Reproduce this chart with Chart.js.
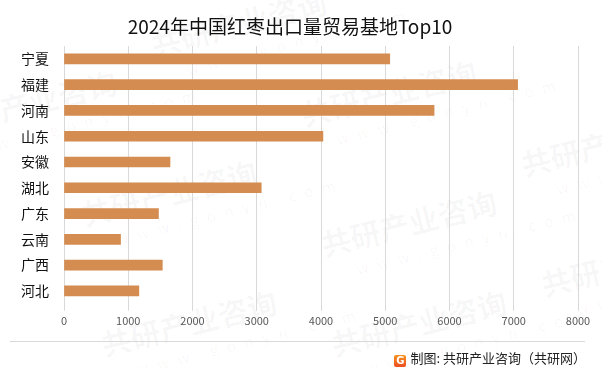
<!DOCTYPE html>
<html>
<head>
<meta charset="utf-8">
<script src="https://cdn.jsdelivr.net/npm/chart.js@4.4.1/dist/chart.umd.min.js"></script>
<style>
  html, body { margin: 0; padding: 0; background: #fff; }
  #wrap { position: relative; width: 602px; height: 368px; overflow: hidden; font-family: "Noto Sans CJK SC", "Noto Sans", sans-serif; }
  #chart { position: absolute; left: 0; top: 0; }
  #title { position: absolute; left: 0; top: 13px; width: 580px; text-align: center; font-size: 19px; color: #111; line-height: 26px; }
  #rule { position: absolute; left: 10px; top: 341px; width: 575px; height: 1px; background: #d9d9d9; }
  #source { position: absolute; right: 16px; top: 349px; font-size: 13px; color: #222; line-height: 18px; }
  #source .logo { display: inline-block; width: 12px; height: 12px; border-radius: 2px; background: linear-gradient(#f7931e, #ee4d1f); color: #fff; font-size: 10px; font-weight: bold; line-height: 12px; text-align: center; vertical-align: -1px; margin-right: 4px; font-family: "DejaVu Sans", sans-serif; }
  .wm { position: absolute; color: rgba(0,0,0,0.035); font-weight: bold; font-size: 30px; transform: rotate(-14deg); white-space: nowrap; }
  .wm small { display: block; font-size: 15px; font-weight: normal; letter-spacing: 9px; margin-left: 28px; }
</style>
</head>
<body>
<div id="wrap">
  <div class="wm" style="left:150px;top:-10px">共研产业咨询<small>www.gonyn.com</small></div>
  <div class="wm" style="left:-60px;top:70px">共研产业咨询<small>www.gonyn.com</small></div>
  <div class="wm" style="left:300px;top:60px">共研产业咨询<small>www.gonyn.com</small></div>
  <div class="wm" style="left:80px;top:160px">共研产业咨询<small>www.gonyn.com</small></div>
  <div class="wm" style="left:520px;top:110px">共研产业咨询<small>www.gonyn.com</small></div>
  <div class="wm" style="left:320px;top:190px">共研产业咨询<small>www.gonyn.com</small></div>
  <div class="wm" style="left:100px;top:290px">共研产业咨询<small>www.gonyn.com</small></div>
  <div class="wm" style="left:330px;top:290px">共研产业咨询<small>www.gonyn.com</small></div>
  <div class="wm" style="left:540px;top:230px">共研产业咨询<small>www.gonyn.com</small></div>
  <canvas id="chart" width="602" height="368"></canvas>
  <div id="title">2024年中国红枣出口量贸易基地Top10</div>
  <div id="rule"></div>
  <div id="source"><span class="logo">G</span>制图: 共研产业咨询（共研网）</div>
</div>
<script>
const provinces = ['宁夏', '福建', '河南', '山东', '安徽', '湖北', '广东', '云南', '广西', '河北'];
const exportVolume = [5070, 7060, 5760, 4030, 1650, 3070, 1470, 880, 1530, 1165];
const xTicks = [0, 1000, 2000, 3000, 4000, 5000, 6000, 7000, 8000];

const ctx = document.getElementById('chart').getContext('2d');
new Chart(ctx, {
    type: 'bar',
    data: {
        labels: provinces,
        datasets: [{
            data: exportVolume,
            backgroundColor: '#d48c50',
            barThickness: 10
        }]
    },
    options: {
        indexAxis: 'y',
        responsive: false,
        animation: false,
        layout: { padding: { top: 46, right: 24, bottom: 38, left: 0 } },
        plugins: {
            legend: { display: false },
            tooltip: { enabled: false }
        },
        scales: {
            x: {
                min: xTicks[0],
                max: xTicks[xTicks.length - 1],
                afterBuildTicks: function (scale) {
                    scale.ticks = xTicks.map(function (v) { return { value: v }; });
                },
                grid: { color: '#d9d9d9', tickLength: 7, drawTicks: true },
                border: { display: false },
                ticks: {
                    color: '#595959',
                    font: { size: 11, family: 'Noto Sans CJK SC' },
                    padding: 3,
                    maxRotation: 0,
                    callback: function (v) { return String(v); }
                }
            },
            y: {
                afterFit: function (scale) { scale.width = 64; },
                grid: { display: false },
                border: { display: false },
                ticks: { color: '#111', font: { size: 14, family: 'Noto Sans CJK SC' }, padding: 7 }
            }
        }
    }
});
</script>
</body>
</html>
